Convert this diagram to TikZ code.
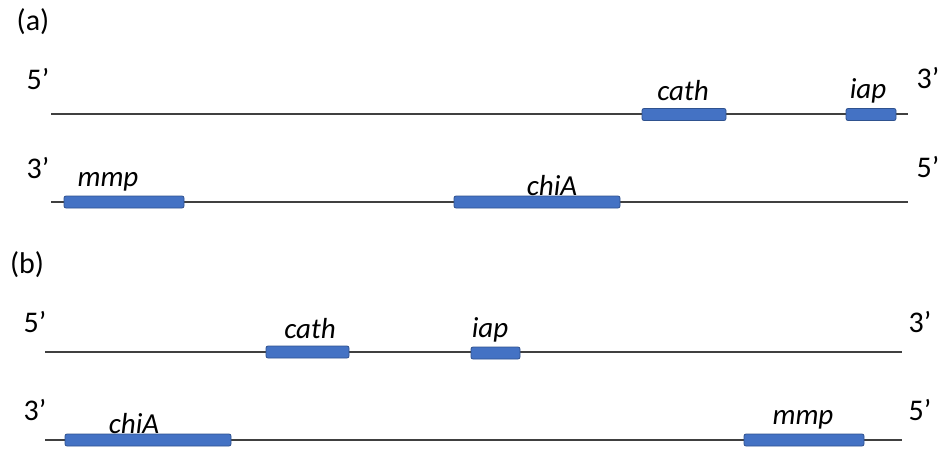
\documentclass[tikz,border=0pt]{standalone}
\usepackage{fontspec}
\setmainfont{Carlito}
\definecolor{genefill}{HTML}{4472C4}
\definecolor{genedraw}{HTML}{2F528F}
\definecolor{strand}{HTML}{404040}
\begin{document}
\begin{tikzpicture}[x=1pt,y=-1pt,
  gene/.style={draw=genedraw,fill=genefill,line width=0.8pt,rounded corners=2pt,minimum height=12pt,inner sep=0pt},
  strandline/.style={draw=strand,line width=1.2pt},
  end/.style={font=\fontsize{30}{34}\selectfont,inner sep=0pt},
  glabel/.style={font=\fontsize{29}{33}\selectfont\itshape,inner sep=0pt},
  panel/.style={font=\fontsize{30}{34}\selectfont,inner sep=0pt}]
\useasboundingbox (0,0) rectangle (945,448);
% panel labels
\node[panel] (pa) at (33,22) {(a)};
\node[panel] (pb) at (27,265) {(b)};
% (a) strand 1
\coordinate (a1s) at (51,114); \coordinate (a1e) at (908,114);
\draw[strandline] (a1s) -- (a1e);
\node[end] (a15) at (38,79) {5’};
\node[end] (a13) at (928,78) {3’};
\node[gene,minimum width=84pt] (acath) at (684,114.5) {};
\node[gene,minimum width=50pt] (aiap) at (871,114.5) {};
\node[glabel] (lacath) at (683,91) {cath};
\node[glabel] (laiap) at (868,91) {iap};
% (a) strand 2
\coordinate (a2s) at (51,202); \coordinate (a2e) at (908,202);
\draw[strandline] (a2s) -- (a2e);
\node[end] (a23) at (38,168) {3’};
\node[end] (a25) at (928,167) {5’};
\node[gene,minimum width=120pt] (ammp) at (124,202) {};
\node[gene,minimum width=166pt] (achiA) at (537,202) {};
\node[glabel] (lammp) at (108,182) {mmp};
\node[glabel] (lachiA) at (552,186) {chiA};
% (b) strand 1
\coordinate (b1s) at (45,352); \coordinate (b1e) at (902,352);
\draw[strandline] (b1s) -- (b1e);
\node[end] (b15) at (35,322) {5’};
\node[end] (b13) at (920,322) {3’};
\node[gene,minimum width=83pt] (bcath) at (307.5,352) {};
\node[gene,minimum width=49pt] (biap) at (495.5,353) {};
\node[glabel] (lbcath) at (310,329) {cath};
\node[glabel] (lbiap) at (490,330) {iap};
% (b) strand 2
\coordinate (b2s) at (45,440); \coordinate (b2e) at (902,440);
\draw[strandline] (b2s) -- (b2e);
\node[end] (b23) at (35,410) {3’};
\node[end] (b25) at (920,410) {5’};
\node[gene,minimum width=166pt] (bchiA) at (148,440) {};
\node[gene,minimum width=120pt] (bmmp) at (804,440) {};
\node[glabel] (lbchiA) at (134,424) {chiA};
\node[glabel] (lbmmp) at (803,420) {mmp};
\end{tikzpicture}
\end{document}
